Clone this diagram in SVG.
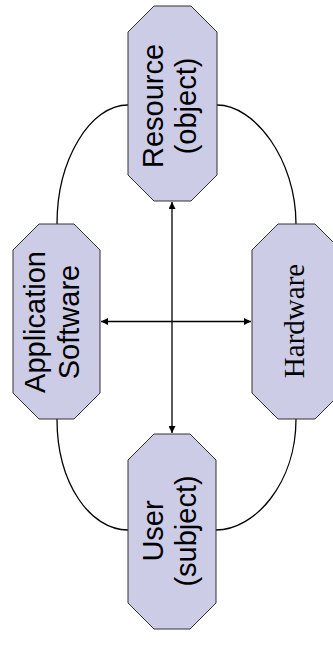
<svg xmlns="http://www.w3.org/2000/svg" width="333" height="648" viewBox="0 0 333 648">
<style>
.node{fill:#ccccE6;stroke:#333;stroke-width:1}
.t{font-family:"Liberation Sans",Arial,sans-serif;font-size:29px;fill:#000;text-anchor:middle}
.ts{font-family:"Liberation Serif","Times New Roman",serif;font-size:29px;fill:#000;text-anchor:middle}
.c{fill:none;stroke:#000;stroke-width:1.3}
</style>
<defs>
<marker id="ah" viewBox="0 0 10 10" refX="10" refY="5" markerWidth="7" markerHeight="7" markerUnits="userSpaceOnUse" orient="auto-start-reverse">
<path d="M0,0 L10,5 L0,10 z" fill="#000"/>
</marker>
</defs>
<rect width="333" height="648" fill="#fff"/>
<g id="connectors">
<path class="c" d="M128,105 C90,105 57,160 57,224"/>
<path class="c" d="M217,105 C255,105 296,160 296,224"/>
<path class="c" d="M57,419 C57,483 90,530 128,530"/>
<path class="c" d="M296,419 C296,483 255,530 216,530"/>
<line class="c" x1="172" y1="202" x2="172" y2="433" marker-start="url(#ah)" marker-end="url(#ah)"/>
<line class="c" x1="101" y1="321.5" x2="251" y2="321.5" marker-start="url(#ah)" marker-end="url(#ah)"/>
</g>
<g id="resource">
<polygon class="node" points="154,6 191,6 217,32 217,175 191,201 154,201 128,175 128,32"/>
<g transform="translate(172.5,106) rotate(-90)">
<text class="t" x="0" y="-9.5">Resource</text>
<text class="t" x="0" y="23.5">(object)</text>
</g>
</g>
<g id="application">
<polygon class="node" points="39,224 74,224 100,250 100,393 74,419 39,419 13,393 13,250"/>
<g transform="translate(56.5,322) rotate(-90)">
<text class="t" x="0" y="-12">Application</text>
<text class="t" x="0" y="22">Software</text>
</g>
</g>
<g id="hardware">
<polygon class="node" points="278,224 315,224 341,250 341,393 315,419 278,419 252,393 252,250"/>
<g transform="translate(296,321) rotate(-90)">
<text class="ts" x="0" y="7.5">Hardware</text>
</g>
</g>
<g id="user">
<polygon class="node" points="154,434 190,434 216,460 216,603 190,629 154,629 128,603 128,460"/>
<g transform="translate(172,531) rotate(-90)">
<text class="t" x="0" y="-9">User</text>
<text class="t" x="0" y="24">(subject)</text>
</g>
</g>
</svg>
